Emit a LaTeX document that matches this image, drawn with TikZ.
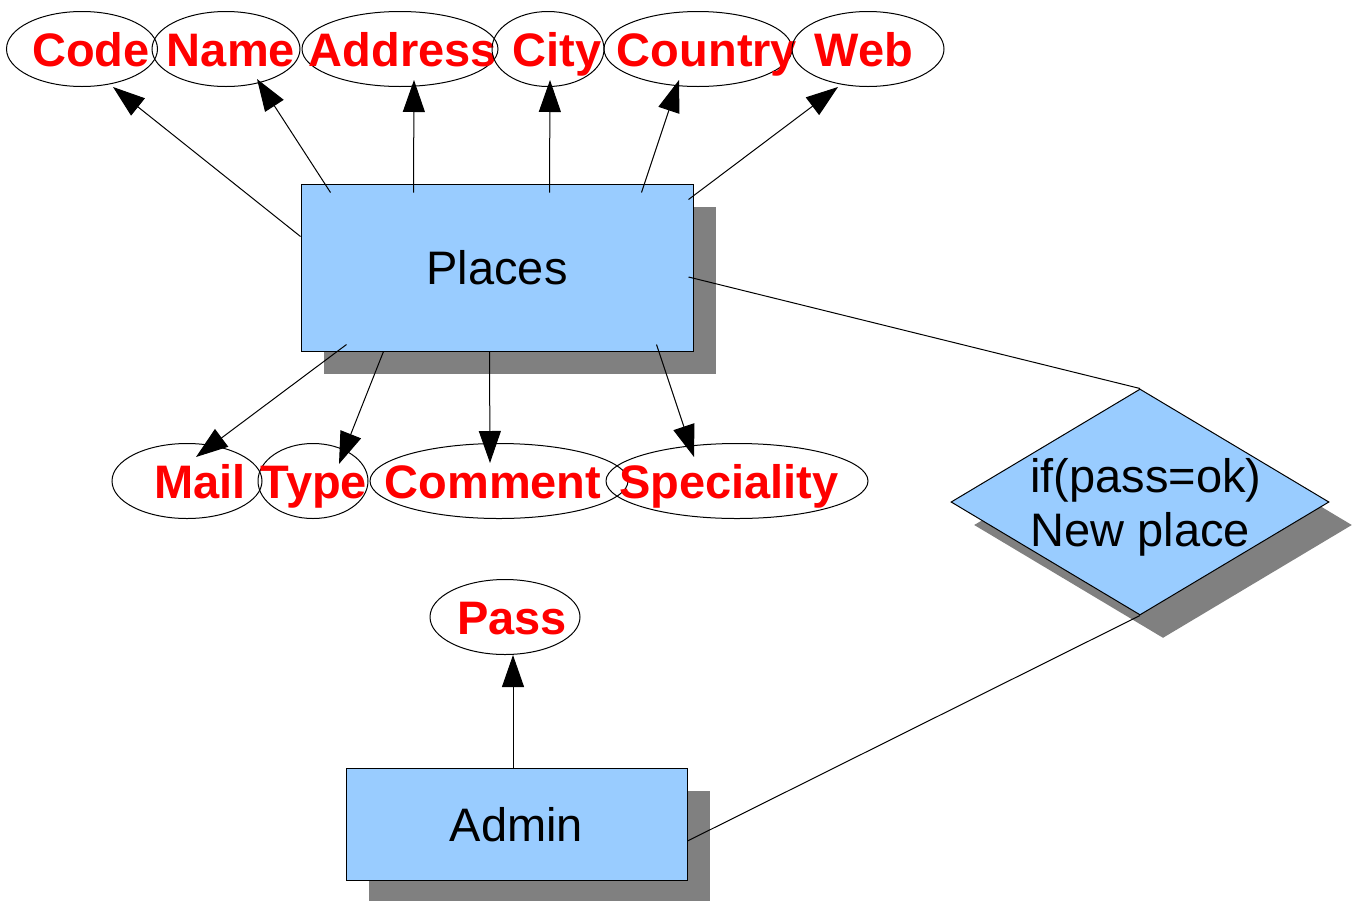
\documentclass[tikz,border=0pt]{standalone}
\usepackage{mathtools}
\usepackage{fontspec}
\setmainfont{Liberation Sans}
\usetikzlibrary{shapes.geometric,arrows.meta}
\definecolor{boxblue}{RGB}{153,204,255}
\definecolor{shadowgray}{RGB}{128,128,128}
% text set off its centre by #1 and given no width
\newcommand{\attrtext}[2]{\rlap{\hspace*{#1}\clap{#2}}}

\begin{document}
\begin{tikzpicture}[x=1pt,y=-1pt,
    attr/.style={ellipse,draw,line width=1pt,minimum height=75pt,inner sep=0pt,
      text=red,font=\fontsize{47}{54}\selectfont\bfseries,text height=34pt,text depth=0pt},
    shadowed/.style={preaction={fill=shadowgray,transform canvas={shift={(23pt,-23pt)}}}},
    entity/.style={draw,fill=boxblue,line width=1pt,shadowed,
      font=\fontsize{47}{54}\selectfont,text height=34pt,text depth=0pt},
    decision/.style={diamond,draw,fill=boxblue,line width=1pt,shadowed,
      minimum width=378pt,minimum height=226pt,inner sep=0pt,
      font=\fontsize{47}{54}\selectfont},
    arr/.style={line width=1pt,-{Triangle[length=32pt,width=22pt]}},
    link/.style={line width=1pt}]
  \useasboundingbox (0,0) rectangle (1356,900);

  % entities and the check
  \node [entity,minimum width=392pt,minimum height=167pt] (places) at (497,267.5) {Places};
  \node [entity,minimum width=341pt,minimum height=112pt] (admin) at (516.5,824) {Admin};
  \node [decision] (check) at (1140,502)
    {\attrtext{6pt}{\raisebox{-13pt}[0pt][0pt]{\begin{tabular}{@{}l@{}}if(pass=ok)\\New place\end{tabular}}}};

  % attributes of Places
  \node [attr,minimum width=151pt] (code) at (82,49) {\attrtext{9pt}{Code}};
  \node [attr,minimum width=148pt] (name) at (226,49) {\attrtext{5pt}{Name}};
  \node [attr,minimum width=196pt] (address) at (400,49) {\attrtext{3pt}{Address}};
  \node [attr,minimum width=112pt] (city) at (548,49) {\attrtext{9pt}{City}};
  \node [attr,minimum width=188pt] (country) at (698,49) {\attrtext{9pt}{Country}};
  \node [attr,minimum width=152pt] (web) at (868,49) {\attrtext{-4pt}{Web}};
  \node [attr,minimum width=150pt] (mail) at (187,481) {\attrtext{13pt}{Mail}};
  \node [attr,minimum width=110pt] (type) at (313,481) {\attrtext{1pt}{Type}};
  \node [attr,minimum width=258pt] (comment) at (499,481) {\attrtext{-6pt}{Comment}};
  \node [attr,minimum width=262pt] (speciality) at (737,481) {\attrtext{-8pt}{Speciality}};
  % attribute of Admin
  \node [attr,minimum width=150pt] (pass) at (505,617) {\attrtext{7pt}{Pass}};

  \draw [arr] ([yshift=-53pt]places.north west) -- ([shift={(31pt,-38pt)}]code.center);
  \draw [arr] ([shift={(30pt,-9pt)}]places.north west) -- ([shift={(31pt,-30pt)}]name.center);
  \draw [arr] ([shift={(113pt,-9pt)}]places.north west) -- ([shift={(14pt,-31pt)}]address.center);
  \draw [arr] ([shift={(249pt,-9pt)}]places.north west) -- ([shift={(2pt,-31pt)}]city.center);
  \draw [arr] ([shift={(341pt,-9pt)}]places.north west) -- ([shift={(-19pt,-31pt)}]country.center);
  \draw [arr] ([shift={(-5pt,-16pt)}]places.north east) -- ([shift={(-30pt,-38pt)}]web.center);
  \draw [arr] ([shift={(46pt,7pt)}]places.south west) -- ([shift={(9pt,24pt)}]mail.center);
  \draw [arr] ([xshift=83pt]places.south west) -- ([shift={(26pt,17pt)}]type.center);
  \draw [arr] ([xshift=189pt]places.south west) -- ([shift={(-9pt,18pt)}]comment.center);
  \draw [arr] ([shift={(356pt,7pt)}]places.south west) -- ([shift={(-43pt,24pt)}]speciality.center);
  \draw [arr] ([xshift=-3.5pt]admin.north) -- ([shift={(8pt,-38pt)}]pass.center);

  \draw [link] ([shift={(-5pt,-9.5pt)}]places.east) -- (check.north);
  \draw [link] ([yshift=-17pt]admin.east) -- (check.south);
\end{tikzpicture}
\end{document}
